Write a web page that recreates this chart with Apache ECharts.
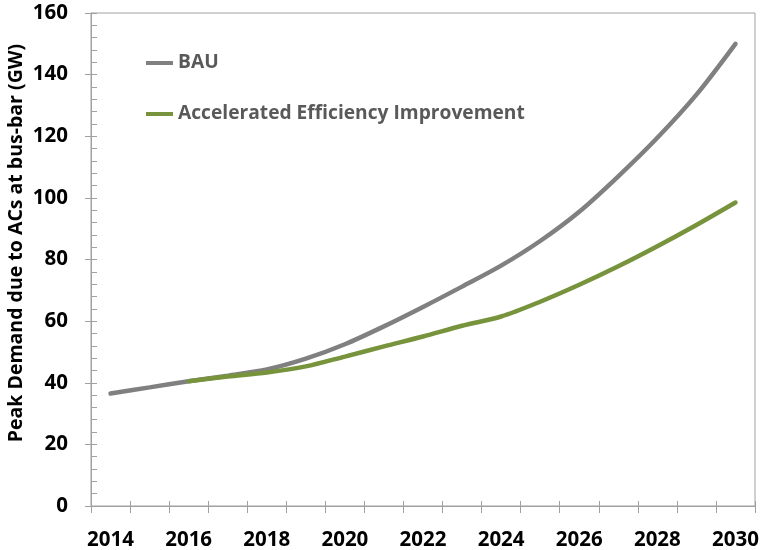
<!DOCTYPE html>
<html>
<head>
<meta charset="utf-8">
<script src="https://cdn.jsdelivr.net/npm/echarts@6/dist/echarts.min.js"></script>
<style>
  html, body { margin: 0; padding: 0; background: #fff; }
  #main { width: 762px; height: 550px; }
</style>
</head>
<body>
<div id="main"></div>
<script>
// years on the x axis
var years = ['2014','2015','2016','2017','2018','2019','2020','2021','2022',
             '2023','2024','2025','2026','2027','2028','2029','2030'];

// BAU peak demand (GW)
var bau = [36.5, 38.5, 40.5, 42.3, 44.3, 47.8, 52.5, 58.3, 64.6,
           71.2, 78.0, 86.0, 95.5, 107.0, 119.5, 133.5, 150.0];

// Accelerated Efficiency Improvement (GW), starts 2016
var aei = [null, null, 40.5, 42.0, 43.3, 45.3, 48.5, 51.8, 55.0,
           58.5, 61.5, 66.3, 71.8, 77.8, 84.3, 91.2, 98.5];

var yTitle = 'Peak Demand due to ACs at bus-bar (GW)';

var FONT = '"Open Sans"';
var axisGray = '#a0a0a0';

var chart = echarts.init(document.getElementById('main'), null, {renderer: 'canvas'});

chart.setOption({
  animation: false,
  backgroundColor: '#fff',
  grid: {
    left: 91, right: 7, top: 13, bottom: 44,
    outerBoundsMode: 'none',
    containLabel: false,
    show: true, borderColor: axisGray, borderWidth: 1
  },
  // y axis title, sits a bit above the middle like the original
  graphic: [{
    type: 'text',
    x: 16, y: 243,
    rotation: Math.PI / 2,
    style: {
      text: yTitle,
      fontFamily: FONT, fontWeight: 'bold', fontSize: 19.5, fill: '#000',
      align: 'center', verticalAlign: 'middle'
    }
  }],
  legend: {
    orient: 'vertical',
    left: 141, top: 47,
    itemWidth: 27, itemHeight: 4,
    itemGap: 29,
    icon: 'rect',
    textStyle: {
      fontFamily: FONT, fontWeight: 'bold', fontSize: 19.2,
      color: '#595959', lineHeight: 22
    },
    data: ['BAU', 'Accelerated Efficiency Improvement']
  },
  xAxis: [{
    type: 'category',
    data: years,
    boundaryGap: true,
    axisLine: {lineStyle: {color: axisGray, width: 1}},
    axisTick: {show: true, interval: 0, length: 7, lineStyle: {color: axisGray}},
    axisLabel: {
      interval: 1, margin: 24, hideOverlap: false,
      fontFamily: FONT, fontWeight: 'bold', fontSize: 20.5, color: '#000'
    },
    splitLine: {show: false}
  }, {
    type: 'category',
    data: years,
    position: 'bottom',
    boundaryGap: true,
    axisLine: {show: false},
    axisTick: {show: true, inside: true, interval: 0, length: 5, lineStyle: {color: axisGray}},
    axisLabel: {show: false},
    splitLine: {show: false}
  }],
  yAxis: [{
    type: 'value',
    min: 0, max: 160, interval: 20,
    axisLine: {show: true, lineStyle: {color: axisGray, width: 1}},
    axisTick: {show: true, length: 6, lineStyle: {color: axisGray}},
    axisLabel: {
      margin: 23,
      fontFamily: FONT, fontWeight: 'bold', fontSize: 20.5, color: '#000'
    },
    splitLine: {show: false}
  }, {
    type: 'value',
    position: 'left',
    min: 0, max: 160, interval: 20,
    axisLine: {show: false},
    axisTick: {show: true, inside: true, length: 6, lineStyle: {color: axisGray}},
    minorTick: {show: true, splitNumber: 5, length: 6, lineStyle: {color: axisGray}},
    axisLabel: {show: false},
    splitLine: {show: false}
  }],
  series: [{
    name: 'BAU',
    type: 'line',
    data: bau,
    smooth: 0.3,
    symbol: 'none',
    itemStyle: {color: '#808080'},
    lineStyle: {color: '#808080', width: 4.5, cap: 'round'}
  }, {
    name: 'Accelerated Efficiency Improvement',
    type: 'line',
    data: aei,
    smooth: 0.3,
    symbol: 'none',
    itemStyle: {color: '#77933c'},
    lineStyle: {color: '#77933c', width: 4.5, cap: 'round'}
  }]
});
</script>
</body>
</html>
